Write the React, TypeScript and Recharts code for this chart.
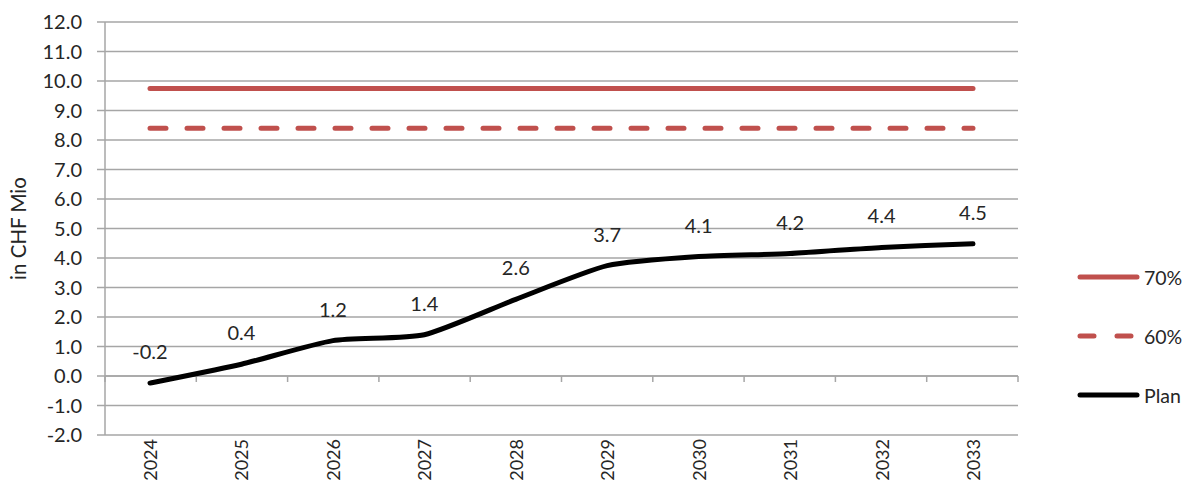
import React from 'react';
import { LineChart, Line, XAxis, YAxis, CartesianGrid, ReferenceLine, LabelList, Legend } from 'recharts';

const years = ['2024', '2025', '2026', '2027', '2028', '2029', '2030', '2031', '2032', '2033'];
const planValues = [-0.24, 0.4, 1.2, 1.4, 2.6, 3.74, 4.05, 4.15, 4.36, 4.48];
const limit70Values = [9.75, 9.75, 9.75, 9.75, 9.75, 9.75, 9.75, 9.75, 9.75, 9.75];
const limit60Values = [8.4, 8.4, 8.4, 8.4, 8.4, 8.4, 8.4, 8.4, 8.4, 8.4];
const planLabels = ['-0.2', '0.4', '1.2', '1.4', '2.6', '3.7', '4.1', '4.2', '4.4', '4.5'];
const yTicks = [-2, -1, 0, 1, 2, 3, 4, 5, 6, 7, 8, 9, 10, 11, 12];
const seriesNames = ['70%', '60%', 'Plan'];
const axisTitle = 'in CHF Mio';

const data = years.map((y, i) => ({
  year: y,
  p70: limit70Values[i],
  p60: limit60Values[i],
  plan: planValues[i],
  planLabel: planLabels[i],
}));

const FONT = 'Lato, "Open Sans", sans-serif';
const TEXT = '#262626';
const GRID = '#A6A6A6';
const RED = '#C0504D';

// Lightly smoothed line (Catmull-Rom style with reduced tangents)
function SmoothCurve(this: any, context: any) {
  this._context = context;
}
SmoothCurve.prototype = {
  areaStart() {},
  areaEnd() {},
  lineStart() {
    this._pts = [];
  },
  point(x: number, y: number) {
    this._pts.push([+x, +y]);
  },
  lineEnd() {
    const p = this._pts as number[][];
    const c = this._context;
    if (!p.length) return;
    const k = 10;
    c.moveTo(p[0][0], p[0][1]);
    for (let i = 0; i < p.length - 1; i++) {
      const p0 = p[i - 1] || p[i];
      const p1 = p[i];
      const p2 = p[i + 1];
      const p3 = p[i + 2] || p[i + 1];
      c.bezierCurveTo(
        p1[0] + (p2[0] - p0[0]) / k,
        p1[1] + (p2[1] - p0[1]) / k,
        p2[0] - (p3[0] - p1[0]) / k,
        p2[1] - (p3[1] - p1[1]) / k,
        p2[0],
        p2[1]
      );
    }
  },
};
const smoothCurve: any = (context: any) => new (SmoothCurve as any)(context);

const XTick = (props: any) => {
  const { x, y, payload } = props;
  return (
    <text
      x={x}
      y={y}
      transform={`rotate(-90 ${x} ${y})`}
      textAnchor="end"
      dominantBaseline="central"
      fontFamily={FONT}
      fontSize={18}
      fill={TEXT}
    >
      {payload.value}
    </text>
  );
};

const ZeroAxis = (props: any) => {
  const { x1, y1, x2, y2 } = props;
  const n = years.length;
  const step = (x2 - x1) / n;
  const marks = [];
  for (let i = 0; i <= n; i++) {
    const xx = x1 + i * step;
    marks.push(<line key={i} x1={xx} x2={xx} y1={y1} y2={y1 + 6} stroke={GRID} strokeWidth={1.5} />);
  }
  return (
    <g>
      <line x1={x1} y1={y1} x2={x2} y2={y2} stroke={GRID} strokeWidth={1.5} />
      {marks}
    </g>
  );
};

const renderLegend = () => {
  const rows = [
    { name: seriesNames[0], color: RED, dash: undefined },
    { name: seriesNames[1], color: RED, dash: '14 23' },
    { name: seriesNames[2], color: '#000000', dash: undefined },
  ];
  return (
    <svg width={116} height={150}>
      {rows.map((r, i) => (
        <g key={r.name}>
          <line
            x1={3}
            x2={60}
            y1={15 + i * 59}
            y2={15 + i * 59}
            stroke={r.color}
            strokeWidth={5}
            strokeLinecap="round"
            strokeDasharray={r.dash}
          />
          <text x={67} y={15 + i * 59} dominantBaseline="central" fontFamily={FONT} fontSize={19.5} fill={TEXT}>
            {r.name}
          </text>
        </g>
      ))}
    </svg>
  );
};

const YLabel = (props: any) => {
  const vb = props.viewBox || { y: 22, height: 413 };
  const cy = vb.y + vb.height / 2;
  return (
    <text
      x={18}
      y={cy}
      transform={`rotate(-90 18 ${cy})`}
      textAnchor="middle"
      dominantBaseline="central"
      fontFamily={FONT}
      fontSize={20.5}
      fill={TEXT}
    >
      {axisTitle}
    </text>
  );
};

export default function App() {
  return (
    <div style={{ position: 'absolute', left: 0, top: 0, width: 1196, height: 481, background: '#fff' }}>
      <LineChart
        width={1196}
        height={481}
        data={data}
        margin={{ top: 22, right: 178, left: 0, bottom: 0 }}
        style={{ fontFamily: FONT }}
      >
        <CartesianGrid vertical={false} stroke={GRID} strokeWidth={1.5} />
        <XAxis
          dataKey="year"
          height={46}
          padding={{ left: 45, right: 45 }}
          axisLine={false}
          tickLine={false}
          tickSize={0}
          tickMargin={4}
          interval={0}
          tick={<XTick />}
        />
        <YAxis
          width={105}
          domain={[-2, 12]}
          ticks={yTicks}
          interval={0}
          tickFormatter={(v: number) => v.toFixed(1)}
          tick={{ fontFamily: FONT, fontSize: 20, fill: TEXT }}
          tickSize={8}
          tickMargin={15}
          axisLine={{ stroke: GRID, strokeWidth: 1.5 }}
          tickLine={{ stroke: GRID, strokeWidth: 1.5 }}
          label={YLabel}
        />
        <ReferenceLine y={0} shape={ZeroAxis} />
        <Legend
          layout="horizontal"
          align="center"
          verticalAlign="middle"
          content={renderLegend}
          wrapperStyle={{ left: 1077, top: 262, width: 116, height: 150 }}
        />
        <Line
          dataKey="p70"
          name={seriesNames[0]}
          stroke={RED}
          strokeWidth={5}
          strokeLinecap="round"
          dot={false}
          activeDot={false}
          isAnimationActive={false}
        />
        <Line
          dataKey="p60"
          name={seriesNames[1]}
          stroke={RED}
          strokeWidth={5}
          strokeLinecap="round"
          strokeDasharray="16 21"
          dot={false}
          activeDot={false}
          isAnimationActive={false}
        />
        <Line
          type={smoothCurve}
          dataKey="plan"
          name={seriesNames[2]}
          stroke="#000000"
          strokeWidth={5}
          strokeLinecap="round"
          dot={false}
          activeDot={false}
          isAnimationActive={false}
        >
          <LabelList
            dataKey="planLabel"
            position="top"
            offset={24}
            style={{ fontFamily: FONT, fontSize: 20, fill: TEXT }}
          />
        </Line>
      </LineChart>
    </div>
  );
}
